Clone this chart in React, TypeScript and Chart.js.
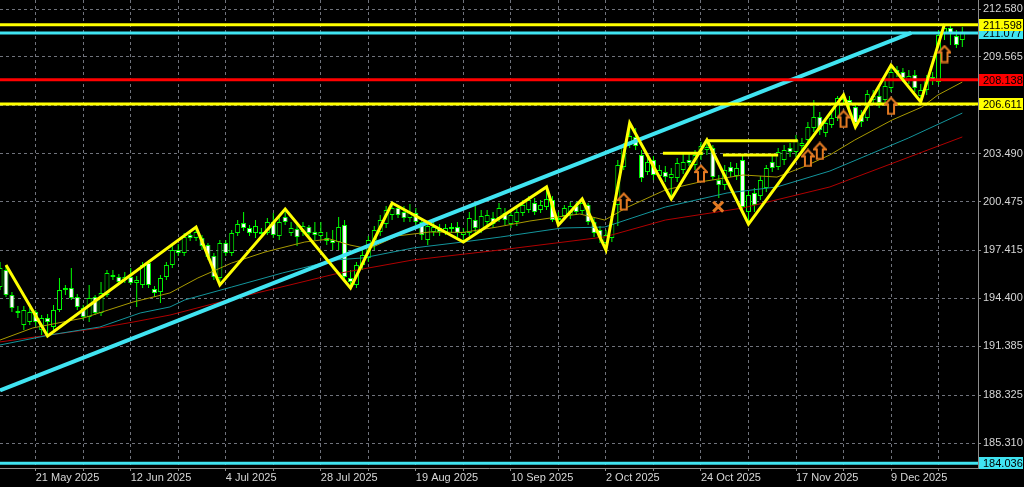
import React, { useEffect, useRef } from 'react';
import { Chart, registerables } from 'chart.js';

Chart.register(...registerables);

// ---- Daily OHLC bars (index 0 = 13 May 2025, weekdays) ----
const OPEN = [
  195.11,196.18,194.61,193.60,192.73,192.91,193.54,192.41,193.16,192.60,
  193.67,194.92,195.05,194.48,193.79,193.23,194.48,193.48,194.61,195.87,
  195.74,195.55,195.74,195.36,195.24,196.62,194.99,194.80,195.74,196.50,
  197.44,197.25,198.38,198.19,198.19,197.75,197.06,195.68,197.88,197.25,
  198.51,199.13,198.82,198.51,198.57,198.51,199.20,198.32,199.51,198.51,
  198.76,198.57,198.88,198.57,198.32,198.19,198.07,197.94,199.01,195.68,
  195.24,196.50,196.93,197.75,198.57,199.07,199.64,200.08,199.82,199.45,
  199.76,199.20,198.07,198.57,198.82,198.57,198.88,198.88,198.38,198.51,
  199.32,198.70,199.20,199.45,199.45,199.76,199.07,199.20,199.76,199.95,
  200.39,199.95,200.14,200.58,199.45,199.57,199.64,200.20,199.89,200.27,
  199.20,198.70,197.88,198.19,200.27,202.65,204.03,204.54,203.41,202.34,
  203.09,202.09,202.34,201.96,201.96,202.46,203.09,202.78,203.41,203.72,
  203.85,201.84,201.52,202.65,202.09,203.09,199.82,201.02,200.83,201.33,
  202.97,202.65,203.09,203.85,203.60,203.97,204.35,205.10,205.79,204.79,
  205.29,205.73,206.86,206.86,206.42,205.92,205.73,206.86,207.11,206.86,
  207.62,208.75,208.62,208.12,208.43,207.11,207.49,208.31,207.99,211.07,
  211.39,210.88,210.63,
];
const HIGH = [
  196.68,196.50,194.80,193.92,193.92,193.79,193.67,193.35,193.42,193.98,
  195.68,195.24,196.31,194.67,193.98,195.24,194.61,195.43,196.18,196.18,
  195.93,196.06,196.31,195.80,196.68,196.81,195.18,195.87,196.68,197.69,
  197.81,198.51,198.70,198.88,198.38,197.88,197.25,198.07,198.07,198.70,
  199.32,199.82,199.01,199.32,198.82,199.45,199.76,199.64,200.01,199.20,
  199.20,199.20,199.01,199.20,199.20,198.57,198.70,199.51,199.32,196.18,
  196.68,197.44,198.32,198.94,199.64,200.20,200.39,200.27,200.20,200.33,
  200.08,199.45,199.20,199.32,199.07,199.07,199.13,199.20,198.82,199.82,
  200.27,199.95,199.95,199.82,200.39,200.08,199.95,200.08,200.58,200.83,
  200.70,200.58,201.40,200.83,199.82,200.27,200.45,200.45,200.64,200.39,
  199.45,198.94,198.70,199.45,203.09,204.16,205.42,205.10,203.72,203.22,
  203.34,202.78,202.71,202.59,203.22,203.60,203.60,203.72,204.22,204.35,
  204.03,202.15,202.78,202.97,202.90,203.41,201.21,201.33,202.09,202.78,
  203.41,203.85,204.03,204.16,204.66,204.47,205.48,206.86,206.11,205.73,
  206.11,207.11,207.18,207.11,206.67,206.23,207.49,207.49,207.62,208.12,
  209.06,209.00,208.87,208.75,208.75,207.87,208.43,208.62,211.26,211.64,
  211.57,211.26,211.45,
];
const LOW = [
  194.92,194.48,193.54,193.16,192.41,192.73,192.66,192.10,192.03,192.41,
  193.54,194.61,194.30,193.67,193.04,192.91,193.35,193.29,194.48,195.55,
  195.24,195.36,195.24,193.86,195.05,195.05,194.48,194.11,195.55,196.31,
  197.06,197.06,198.00,198.00,197.44,196.81,195.55,195.24,197.06,197.06,
  198.32,198.63,198.32,198.19,198.26,198.38,198.19,198.07,199.01,198.32,
  197.69,198.32,198.32,198.07,198.07,197.75,197.44,197.44,195.43,195.05,
  195.05,196.18,196.68,197.44,198.32,198.82,199.32,199.45,199.20,199.20,
  199.01,198.07,197.75,198.32,198.32,198.38,198.51,198.26,197.94,198.32,
  198.57,198.51,198.94,198.82,199.20,199.01,198.82,198.94,199.57,199.76,
  199.64,199.76,199.95,199.20,199.01,199.32,199.39,199.64,199.70,199.01,
  198.26,197.88,197.44,197.94,198.94,202.46,203.85,203.72,201.71,202.15,
  201.84,201.84,201.71,200.64,201.71,202.21,202.71,202.46,203.09,203.41,
  201.84,200.70,201.21,202.02,201.84,199.95,199.07,199.82,200.58,201.08,
  202.34,202.46,202.78,203.28,203.28,203.72,204.03,204.85,204.66,204.54,
  205.10,205.54,206.55,206.23,205.17,205.17,205.54,206.67,206.36,206.67,
  207.36,208.31,207.99,207.87,207.36,206.74,207.18,207.80,207.80,210.63,
  210.32,210.13,210.19,
];
const CLOSE = [
  196.31,194.61,193.79,193.48,193.67,193.54,192.91,193.16,192.91,193.67,
  194.92,195.05,194.42,193.86,193.23,194.42,193.48,194.74,195.99,195.74,
  195.43,195.74,195.36,195.55,196.50,195.24,194.74,195.68,196.50,197.44,
  197.25,198.26,198.19,198.57,197.69,197.00,195.74,197.88,197.25,198.51,
  199.07,198.82,198.51,198.94,198.44,199.20,198.38,199.20,199.20,198.82,
  198.26,198.94,198.51,198.38,198.57,198.00,197.88,198.88,195.74,195.43,
  196.50,197.12,198.07,198.70,199.32,199.95,200.08,199.64,199.45,199.82,
  199.20,198.38,198.94,198.88,198.57,198.82,198.76,198.51,198.57,199.45,
  198.82,199.57,199.64,199.07,200.08,199.32,199.64,199.82,200.27,200.58,
  199.82,200.27,200.64,199.32,199.32,200.08,200.20,199.82,200.39,199.20,
  198.51,198.19,198.38,199.07,202.78,203.91,204.60,203.97,201.96,202.97,
  202.15,202.46,202.02,202.21,202.90,202.97,202.90,203.41,203.97,203.91,
  202.02,201.52,202.46,202.34,202.59,200.14,200.89,200.27,201.84,202.59,
  202.59,203.60,203.72,203.60,204.35,204.16,205.17,205.79,204.98,205.42,
  205.73,206.99,206.99,206.67,205.42,205.48,207.24,207.11,206.67,207.74,
  208.62,208.56,208.24,208.37,207.62,207.49,208.12,208.12,210.95,211.39,
  211.01,210.32,211.07,
];

// ---- Moving averages (bar index, price) ----
const MA_FAST_IDX = [0,5.5,14,22.4,28.6,33.3,39,44.6,51.3,55.5,58.9,61.4,62.8,66.8,72.4,77.9,83.7,89.2,93.8,97.6,101.8,105.7,112,117.8,125.1,130.8,135.2,139.7,143.9,150.2,155.2,157.9,162];
const MA_FAST = [191.78,192.54,193.16,194.17,194.74,195.68,196.62,197.31,197.94,198.13,197.75,197.56,197.63,198.32,198.57,198.54,198.88,199.26,199.51,199.70,199.32,200.14,201.21,201.71,202.15,202.02,202.65,203.41,204.35,205.61,206.42,207.18,207.99];
const MA_MID_IDX = [0,8.4,16.8,23.6,28.6,31.1,39,47.5,56.4,61.1,69.5,77.9,84.2,94.6,101.8,112,122.4,130.8,139.7,152.9,162];
const MA_MID = [191.47,192.10,192.60,193.48,193.86,194.30,195.11,195.99,196.81,196.94,197.56,197.94,198.25,198.82,198.88,200.14,201.02,201.40,202.40,204.47,206.04];
const MA_SLOW_IDX = [0,8.4,16.8,22.4,28.6,38.4,56.4,69.5,84.2,101.8,112,125.1,139.7,162];
const MA_SLOW = [191.66,192.10,192.54,192.91,193.35,194.30,195.93,196.81,197.44,198.26,199.32,200.08,201.40,204.54];

// ---- ZigZag pivots ----
const ZZ_IDX = [1,8,33,37,48,59,66,78,92,94,98,102,106,113,119,126,142,144,150,155,159];
const ZZ_PRICE = [196.50,192.03,198.88,195.24,200.01,195.05,200.39,197.94,201.40,199.01,200.64,197.44,205.42,200.64,204.35,199.07,207.18,205.17,209.06,206.74,211.64];

// ---- Trend line ----
const TREND_IDX = [0, 153.4];
const TREND_PRICE = [188.61, 211.077];

// ---- Horizontal levels ----
const LEVEL_PRICE = [184.036, 206.611, 208.138, 211.077, 211.598];
const LEVEL_TEXT = ['184.036', '206.611', '208.138', '211.077', '211.598'];
const LEVEL_KIND = ['cyan', 'yellow', 'red', 'cyan', 'yellow'];

// ---- Short S/R segments ----
const SEG_START = [111.6, 119, 121.7];
const SEG_END = [118.3, 134.3, 131];
const SEG_PRICE = [203.51, 204.31, 203.41];

// ---- Signals ----
const ARROW_IDX = [105, 118, 136, 138, 142, 150, 159];
const ARROW_PRICE = [200.48, 202.24, 203.22, 203.66, 205.67, 206.49, 209.75];
const CROSS_IDX = [120.9];
const CROSS_PRICE = [200.16];

// ---- Axis ticks ----
const GRID_IDX = [6,14,22,30,38,46,54,62,70,78,86,94,102,110,118,126,134,142,150,158];
const DATE_IDX = [6,22,38,54,70,86,102,118,134,150];
const DATE_LABELS = ['21 May 2025','12 Jun 2025','4 Jul 2025','28 Jul 2025','19 Aug 2025','10 Sep 2025','2 Oct 2025','24 Oct 2025','17 Nov 2025','9 Dec 2025'];
const Y_TICKS = [212.58, 209.565, 206.528, 203.49, 200.475, 197.415, 194.4, 191.385, 188.325, 185.31];
const Y_TICK_LABELS = ['212.580','209.565','','203.490','200.475','197.415','194.400','191.385','188.325','185.310'];

const X_MIN = -0.01;
const X_MAX = 164.64;
const Y_MIN = 183.74;
const Y_MAX = 213.146;

const FONT = '"Liberation Sans", Arial, sans-serif';
const COLORS: Record<string, string> = {
  cyan: '#40e4f2',
  yellow: '#ffff00',
  red: '#ff0000',
  green: '#00ff00',
  orange: '#e37a22',
  grid: '#70737c',
  frame: '#8c8c8c',
  text: '#d6d6d6',
  maFast: '#a89a00',
  maMid: '#13959c',
  maSlow: '#b00000',
};

const levelLabels = {
  id: 'levelLabels',
  afterDraw(chart: any) {
    const { ctx, chartArea, scales } = chart;
    const y = scales.y;
    ctx.save();
    ctx.font = `11px ${FONT}`;
    ctx.textBaseline = 'middle';
    ctx.textAlign = 'left';
    LEVEL_PRICE.forEach((v, k) => {
      const py = Math.round(y.getPixelForValue(v));
      ctx.fillStyle = COLORS[LEVEL_KIND[k]];
      ctx.fillRect(chartArea.right + 1, py - 6, 44, 12);
      ctx.fillStyle = '#000';
      ctx.fillText(LEVEL_TEXT[k], chartArea.right + 5, py + 0.5);
    });
    ctx.restore();
  },
};

export default function App() {
  const canvasRef = useRef<HTMLCanvasElement | null>(null);

  useEffect(() => {
    document.body.style.margin = '0';
    document.body.style.background = '#000';
    const canvas = canvasRef.current;
    if (!canvas) return;

    const arrow = document.createElement('canvas');
    arrow.width = 14;
    arrow.height = 19;
    const a = arrow.getContext('2d')!;
    a.lineWidth = 2;
    a.strokeStyle = COLORS.orange;
    a.fillStyle = '#000';
    a.beginPath();
    a.moveTo(7, 1.5);
    a.lineTo(13, 8);
    a.lineTo(10, 8);
    a.lineTo(10, 17.5);
    a.lineTo(4, 17.5);
    a.lineTo(4, 8);
    a.lineTo(1, 8);
    a.closePath();
    a.fill();
    a.stroke();

    const idx = OPEN.map((_, i) => i);
    const bodyFill = idx.map((i) => (CLOSE[i] >= OPEN[i] ? '#000000' : '#ffffff'));
    const pts = (xs: number[], ys: number[]) => xs.map((x, i) => ({ x, y: ys[i] }));
    const lineDs = (data: any[], color: string, width: number, order: number) => ({
      type: 'line',
      data,
      borderColor: color,
      borderWidth: width,
      pointRadius: 0,
      fill: false,
      tension: 0,
      clip: 0,
      order,
    });

    const datasets: any[] = [
      {
        type: 'bar',
        data: idx.map((i) => ({ x: i, y: [LOW[i], HIGH[i]] })),
        backgroundColor: COLORS.green,
        borderWidth: 0,
        barThickness: 1,
        inflateAmount: 0,
        grouped: false,
        clip: 0,
        order: 20,
      },
      {
        type: 'bar',
        data: idx.map((i) => ({ x: i, y: [OPEN[i], CLOSE[i]] })),
        backgroundColor: bodyFill,
        borderColor: COLORS.green,
        borderWidth: 1,
        borderSkipped: false,
        barThickness: 5,
        inflateAmount: 0,
        grouped: false,
        clip: 0,
        order: 19,
      },
      lineDs(pts(MA_SLOW_IDX, MA_SLOW), COLORS.maSlow, 1, 18),
      lineDs(pts(MA_MID_IDX, MA_MID), COLORS.maMid, 1, 17),
      lineDs(pts(MA_FAST_IDX, MA_FAST), COLORS.maFast, 1, 16),
      lineDs(pts(TREND_IDX, TREND_PRICE), COLORS.cyan, 4, 10),
      ...LEVEL_PRICE.map((v, k) =>
        lineDs([{ x: X_MIN, y: v }, { x: X_MAX, y: v }], COLORS[LEVEL_KIND[k]], 3, 9)
      ),
      lineDs(pts(ZZ_IDX, ZZ_PRICE), COLORS.yellow, 3, 5),
      ...SEG_PRICE.map((v, k) =>
        lineDs([{ x: SEG_START[k], y: v }, { x: SEG_END[k], y: v }], COLORS.yellow, 3, 4)
      ),
      {
        type: 'scatter',
        data: pts(ARROW_IDX, ARROW_PRICE),
        pointStyle: arrow,
        pointRadius: 8,
        showLine: false,
        order: 1,
      },
      {
        type: 'scatter',
        data: pts(CROSS_IDX, CROSS_PRICE),
        pointStyle: 'crossRot',
        pointRadius: 7,
        borderColor: COLORS.orange,
        borderWidth: 3,
        showLine: false,
        order: 1,
      },
    ];

    const chart = new Chart(canvas, {
      type: 'bar',
      data: { datasets },
      plugins: [levelLabels],
      options: {
        responsive: false,
        animation: false,
        events: [],
        layout: { padding: 0, autoPadding: false },
        plugins: { legend: { display: false }, tooltip: { enabled: false } },
        scales: {
          x: {
            type: 'linear',
            min: X_MIN,
            max: X_MAX,
            offset: false,
            afterBuildTicks: (s: any) => {
              s.ticks = GRID_IDX.map((v) => ({ value: v }));
            },
            afterFit: (s: any) => {
              s.height = 19;
              s.paddingLeft = 0;
              s.paddingRight = 0;
              s.paddingTop = 0;
              s.paddingBottom = 0;
            },
            grid: {
              color: COLORS.grid,
              lineWidth: 1,
              drawTicks: true,
              tickLength: 3,
              tickColor: COLORS.frame,
              offset: false,
            },
            border: { display: true, color: COLORS.frame, dash: [3, 3] },
            ticks: {
              autoSkip: false,
              maxRotation: 0,
              minRotation: 0,
              align: 'start',
              padding: 0,
              color: COLORS.text,
              font: { family: FONT, size: 11 },
              callback: (v: any) => {
                const k = DATE_IDX.indexOf(Number(v));
                return k >= 0 ? DATE_LABELS[k] : '';
              },
            },
          },
          y: {
            type: 'linear',
            position: 'right',
            min: Y_MIN,
            max: Y_MAX,
            afterBuildTicks: (s: any) => {
              s.ticks = Y_TICKS.map((v) => ({ value: v }));
            },
            afterFit: (s: any) => {
              s.width = 46;
              s.paddingLeft = 0;
              s.paddingRight = 0;
              s.paddingTop = 0;
              s.paddingBottom = 0;
            },
            grid: {
              color: COLORS.grid,
              lineWidth: 1,
              drawTicks: true,
              tickLength: 3,
              tickColor: COLORS.frame,
            },
            border: { display: true, color: COLORS.frame, dash: [3, 3] },
            ticks: {
              autoSkip: false,
              padding: 2,
              color: COLORS.text,
              font: { family: FONT, size: 11 },
              callback: (v: any) => {
                const k = Y_TICKS.indexOf(Number(v));
                return k >= 0 ? Y_TICK_LABELS[k] : '';
              },
            },
          },
        },
      } as any,
    } as any);

    return () => chart.destroy();
  }, []);

  return (
    <div style={{ width: 1024, height: 487, background: '#000', overflow: 'hidden' }}>
      <canvas ref={canvasRef} width={1024} height={487} style={{ display: 'block' }} />
    </div>
  );
}
